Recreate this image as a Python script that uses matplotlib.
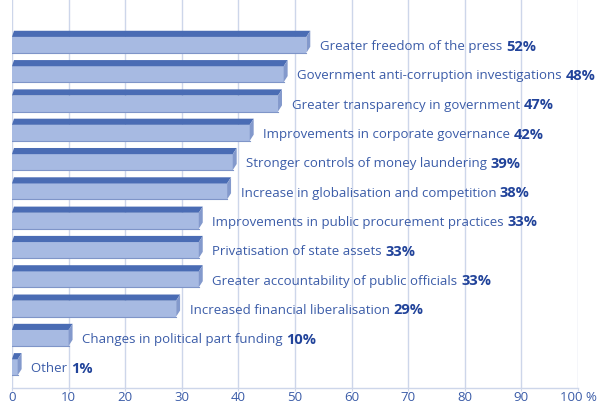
import matplotlib
matplotlib.use("Agg")
import matplotlib.pyplot as plt

categories = [
    "Greater freedom of the press",
    "Government anti-corruption investigations",
    "Greater transparency in government",
    "Improvements in corporate governance",
    "Stronger controls of money laundering",
    "Increase in globalisation and competition",
    "Improvements in public procurement practices",
    "Privatisation of state assets",
    "Greater accountability of public officials",
    "Increased financial liberalisation",
    "Changes in political part funding",
    "Other",
]
values = [52, 48, 47, 42, 39, 38, 33, 33, 33, 29, 10, 1]
x_ticks = [0, 10, 20, 30, 40, 50, 60, 70, 80, 90, 100]
x_tick_labels = ["0", "10", "20", "30", "40", "50", "60", "70", "80", "90", "100 %"]

FRONT = "#a7bae2"
TOP = "#4a6cb4"
SIDE = "#8399cc"
EDGE = "#7f95c8"
TEXT = "#3b5ca8"
BOLD = "#21439a"
GRID = "#cdd6ea"

plt.rcParams["font.family"] = ["Open Sans", "DejaVu Sans"]

fig = plt.figure(figsize=(6.09, 4.09), dpi=100)
ax = fig.add_axes([12 / 609, 21 / 409, 566 / 609, 388 / 409])
ax.set_xlim(0, 100)
ax.set_ylim(11.81, -1.43)

for t in x_ticks:
    ax.axvline(t, color=GRID, lw=1.0, zorder=0)

dx = 0.7          # depth offset of the top face (x units)
top_h = 0.21      # height of top face
f_top, f_bot = -0.17, 0.375

for i, (cat, v) in enumerate(zip(categories, values)):
    y0 = i + f_top
    y1 = i + f_bot
    yt = y0 - top_h
    # front face
    ax.fill([0, v, v, 0], [y0, y0, y1, y1], color=FRONT, zorder=2, lw=0)
    ax.plot([0, v], [y1, y1], color=EDGE, lw=0.8, zorder=3)
    # top face
    ax.fill([0, dx * 0.5, v + dx, v], [y0, yt, yt, y0], color=TOP, zorder=2, lw=0)
    # right side face
    ax.fill([v, v + dx, v + dx, v], [y0, yt, y1 - top_h, y1], color=SIDE, zorder=2, lw=0)
    # label
    ax.annotate(
        cat + " ", xy=(v + dx, i + 0.16), xytext=(7, 0), textcoords="offset points",
        ha="left", va="center", fontsize=9.5, color=TEXT, zorder=4,
    )

# value labels placed right after each category text
fig.canvas.draw()
renderer = fig.canvas.get_renderer()
for txt, v in zip(list(ax.texts), values):
    bb = txt.get_window_extent(renderer)
    ax.annotate(
        f"{v}%", xy=(bb.x1, (bb.y0 + bb.y1) / 2), xycoords="figure pixels",
        ha="left", va="center", fontsize=10.5, fontweight="bold", color=BOLD, zorder=4,
    )

for s in ["top", "right", "left"]:
    ax.spines[s].set_visible(False)
ax.spines["bottom"].set_color(GRID)
ax.spines["bottom"].set_linewidth(1.0)
ax.set_yticks([])
ax.set_xticks(x_ticks)
ax.set_xticklabels(x_tick_labels, fontsize=9.5, color=TEXT)
ax.tick_params(axis="x", length=2, color=GRID, pad=0.5)

fig.savefig("out.png", dpi=100)
